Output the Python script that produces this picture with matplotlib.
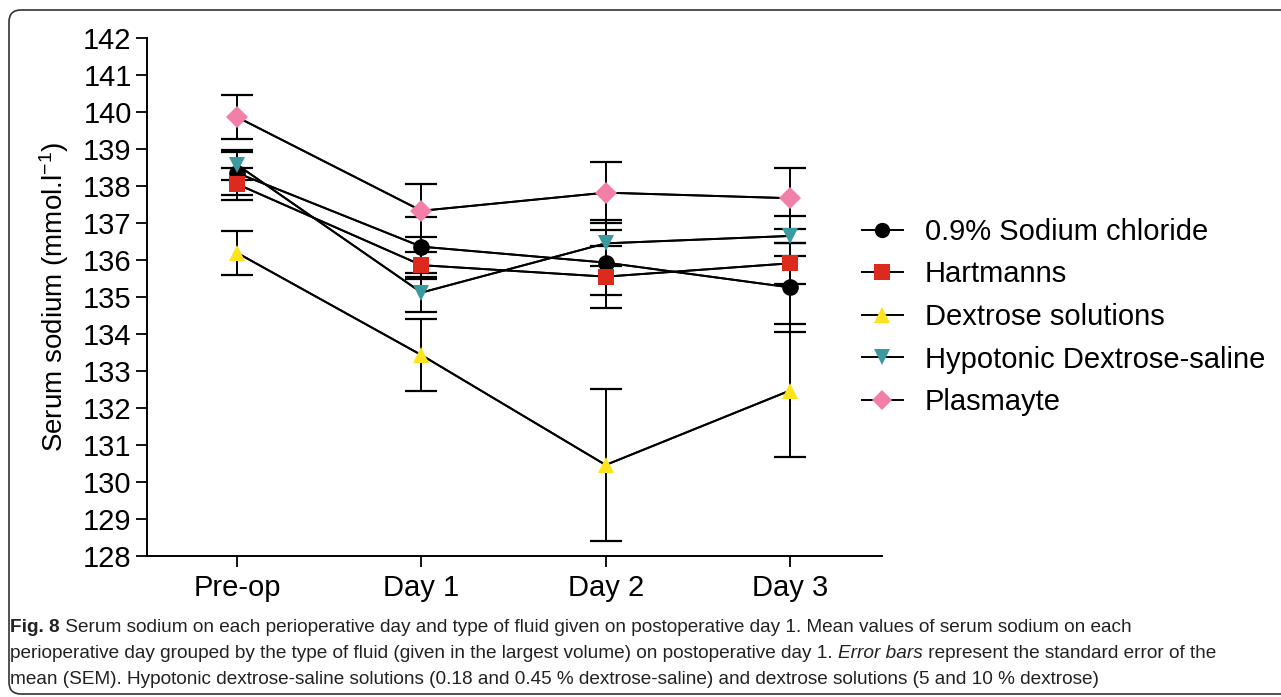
import matplotlib
matplotlib.use("Agg")
import matplotlib.pyplot as plt
from matplotlib.lines import Line2D
from matplotlib.patches import FancyBboxPatch
import numpy as np

# data
days = ["Pre-op", "Day 1", "Day 2", "Day 3"]
labels = ["0.9% Sodium chloride", "Hartmanns", "Dextrose solutions",
          "Hypotonic Dextrose-saline", "Plasmayte"]

saline = [138.35, 136.36, 135.93, 135.26]
saline_sem = [0.58, 0.81, 0.88, 1.21]
hartmanns = [138.05, 135.86, 135.55, 135.91]
hartmanns_sem = [0.43, 0.36, 0.84, 0.56]
dextrose = [136.19, 133.43, 130.46, 132.47]
dextrose_sem = [0.60, 0.97, 2.05, 1.80]
hypotonic = [138.57, 135.12, 136.45, 136.65]
hypotonic_sem = [0.40, 0.52, 0.62, 0.54]
plasmayte = [139.86, 137.33, 137.82, 137.67]
plasmayte_sem = [0.60, 0.72, 0.82, 0.83]

yticks = list(range(128, 143))

series = [saline, hartmanns, dextrose, hypotonic, plasmayte]
sems = [saline_sem, hartmanns_sem, dextrose_sem, hypotonic_sem, plasmayte_sem]
colors = ["#000000", "#dc2a1e", "#ffe31b", "#3a9aa0", "#f27fa8"]
markers = ["o", "s", "^", "v", "D"]
msizes = [12, 12, 12, 12, 11]

main_font = ["Liberation Sans", "DejaVu Sans"]
plt.rcParams["font.family"] = main_font
plt.rcParams["mathtext.fontset"] = "custom"
plt.rcParams["mathtext.rm"] = "Liberation Sans"
plt.rcParams["mathtext.default"] = "regular"

W, H = 1281, 697
fig = plt.figure(figsize=(W / 100, H / 100), dpi=100)

# rounded outer frame
frame = FancyBboxPatch((9, 3), 1300, 684, boxstyle="round,pad=0,rounding_size=12",
                       transform=None, fill=False, edgecolor="#333333", linewidth=1.2)
fig.patches.append(frame)

ax = fig.add_axes([147 / W, 1 - 556 / H, (882 - 147) / W, (556 - 38) / H])
x = np.arange(len(days))

for vals, err, c, m, ms in zip(series, sems, colors, markers, msizes):
    ax.errorbar(x, vals, yerr=err, color="black", linewidth=1.4, capsize=11.5,
                capthick=1.6, zorder=2)
    ax.plot(x, vals, color="black", linewidth=1.4, zorder=3)
    ax.plot(x, vals, linestyle="none", marker=m, markersize=ms, color=c,
            markeredgewidth=0, zorder=4)

ax.set_xlim(-0.49, 3.5)
ax.set_ylim(128, 142)
ax.set_yticks(yticks)
ax.set_xticks(x)
ax.set_xticklabels(days)
ax.tick_params(axis="both", labelsize=21, length=8, width=1.3, pad=3)
ax.tick_params(axis="x", pad=5)
for side in ["top", "right"]:
    ax.spines[side].set_visible(False)
for side in ["left", "bottom"]:
    ax.spines[side].set_linewidth(1.4)
ax.set_ylabel("Serum sodium (mmol.l$^{-1}$)", fontsize=20, labelpad=9)

handles = [Line2D([0], [0], color="black", linewidth=1.4, marker=m, markersize=ms - 1,
                  markerfacecolor=c, markeredgewidth=0)
           for c, m, ms in zip(colors, markers, msizes)]
ax.legend(handles, labels, loc="center left", bbox_to_anchor=(862 / W, 1 - 317 / H),
          bbox_transform=fig.transFigure, frameon=False, fontsize=21,
          handlelength=1.4, handletextpad=0.75, labelspacing=0.5,
          borderpad=0, borderaxespad=0)

# caption
cap_size = 13.7
lines = [
    [("Fig. 8", "bold", "normal"),
     (" Serum sodium on each perioperative day and type of fluid given on postoperative day 1. "
      "Mean values of serum sodium on each", "normal", "normal")],
    [("perioperative day grouped by the type of fluid (given in the largest volume) on "
      "postoperative day 1. ", "normal", "normal"),
     ("Error bars", "normal", "italic"),
     (" represent the standard error of the", "normal", "normal")],
    [("mean (SEM). Hypotonic dextrose-saline solutions (0.18 and 0.45 % dextrose-saline) "
      "and dextrose solutions (5 and 10 % dextrose)", "normal", "normal")],
]
line_y = [628, 654, 680]
for parts, yy in zip(lines, line_y):
    prev = None
    for txt, wt, st in parts:
        kw = dict(fontsize=cap_size, weight=wt, style=st,
                  color="#222222", va="center", ha="left")
        if prev is None:
            prev = fig.text(10 / W, 1 - yy / H, txt, **kw)
        else:
            prev = ax.annotate(txt, xy=(1, 0.5), xycoords=prev, annotation_clip=False, **kw)

fig.savefig("out.png", dpi=100)
